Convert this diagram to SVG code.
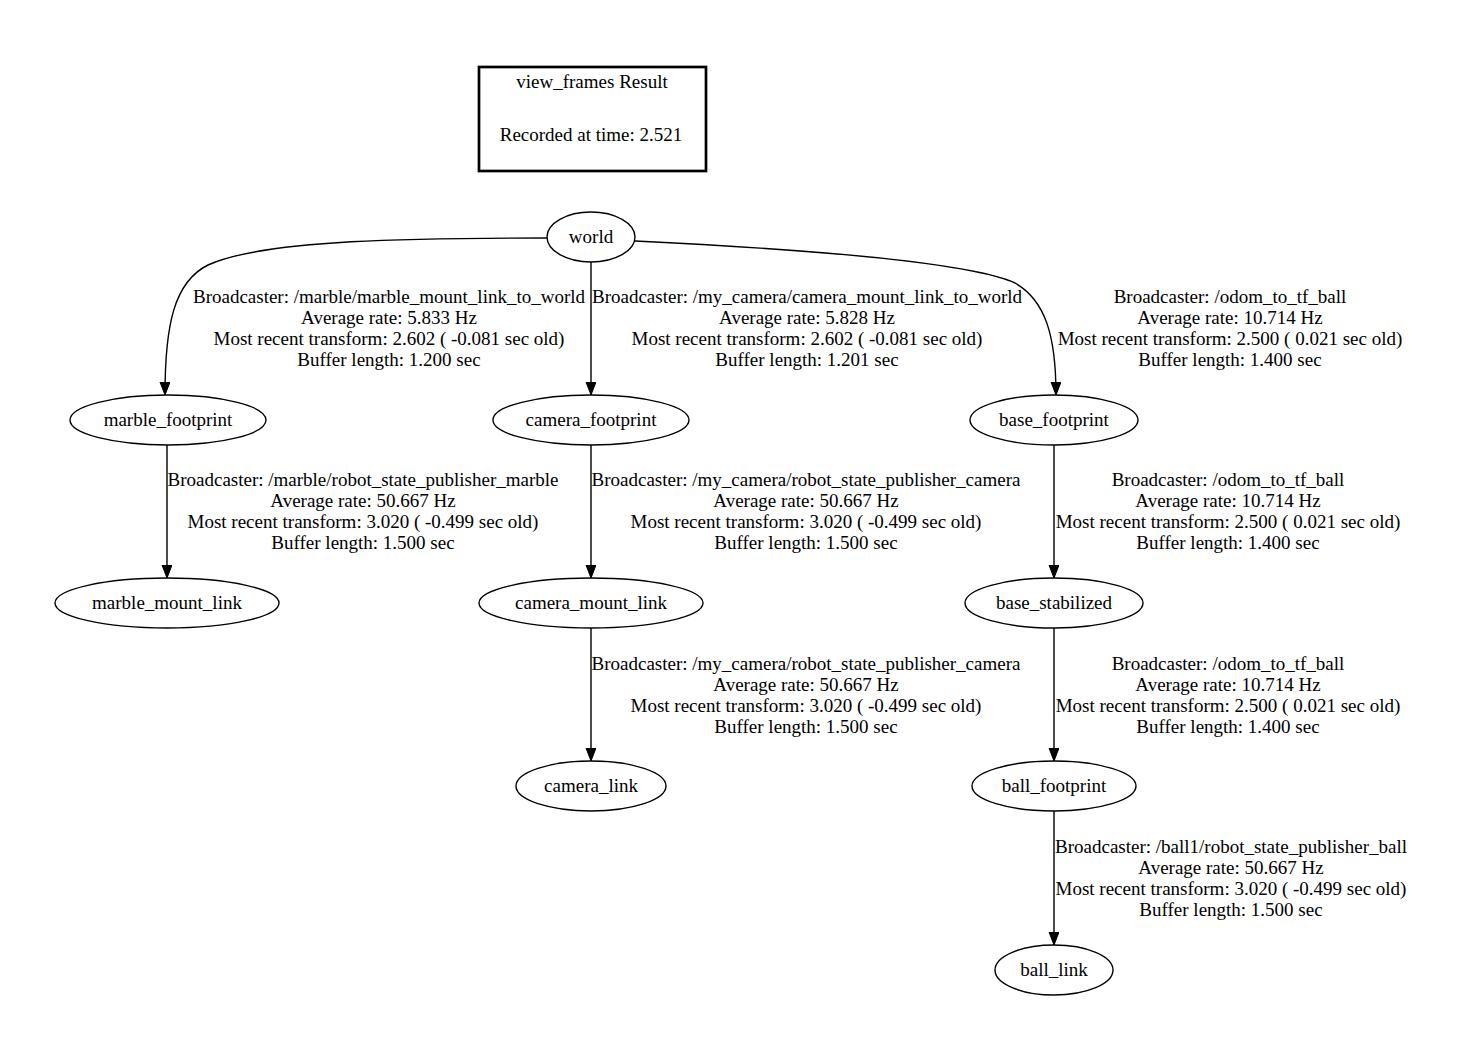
<svg xmlns="http://www.w3.org/2000/svg" width="1463" height="1051" viewBox="0 0 1463 1051">
<style>
text{font-family:"Liberation Serif","Times New Roman",serif;font-size:19px;fill:#000;text-anchor:middle}
.n ellipse{fill:none;stroke:#000;stroke-width:1.4}
.e path{fill:none;stroke:#000;stroke-width:1.4;marker-end:url(#arr)}
</style>
<defs>
<marker id="arr" markerUnits="userSpaceOnUse" markerWidth="14" markerHeight="11" refX="13" refY="5" orient="auto">
<path d="M0,0 L13,5 L0,10 Z" fill="#000" stroke="#000" stroke-width="1"/>
</marker>
</defs>
<rect width="1463" height="1051" fill="#fff"/>
<g id="title">
<rect x="479" y="67" width="227" height="104" fill="none" stroke="#000" stroke-width="2.7"/>
<text x="592" y="88">view_frames Result</text>
<text x="591" y="141">Recorded at time: 2.521</text>
</g>
<g id="edges" class="e">
<path d="M547,238 C420,238 265,239 208,265 C174,282 165,325 165,395"/>
<path d="M591,262 L591,395"/>
<path d="M635,241 C780,248 965,260 1015,283 C1045,300 1056,335 1056,395"/>
<path d="M167,445 L167,578"/>
<path d="M591,445 L591,578"/>
<path d="M1054,445 L1054,578"/>
<path d="M591,628 L591,761"/>
<path d="M1054,628 L1054,761"/>
<path d="M1054,811 L1054,945"/>
</g>
<g id="edge-labels">
<g><text x="389" y="303">Broadcaster: /marble/marble_mount_link_to_world</text><text x="389" y="324">Average rate: 5.833 Hz</text><text x="389" y="345">Most recent transform: 2.602 ( -0.081 sec old)</text><text x="389" y="366">Buffer length: 1.200 sec</text></g>
<g><text x="807" y="303">Broadcaster: /my_camera/camera_mount_link_to_world</text><text x="807" y="324">Average rate: 5.828 Hz</text><text x="807" y="345">Most recent transform: 2.602 ( -0.081 sec old)</text><text x="807" y="366">Buffer length: 1.201 sec</text></g>
<g><text x="1230" y="303">Broadcaster: /odom_to_tf_ball</text><text x="1230" y="324">Average rate: 10.714 Hz</text><text x="1230" y="345">Most recent transform: 2.500 ( 0.021 sec old)</text><text x="1230" y="366">Buffer length: 1.400 sec</text></g>
<g><text x="363" y="486">Broadcaster: /marble/robot_state_publisher_marble</text><text x="363" y="507">Average rate: 50.667 Hz</text><text x="363" y="528">Most recent transform: 3.020 ( -0.499 sec old)</text><text x="363" y="549">Buffer length: 1.500 sec</text></g>
<g><text x="806" y="486">Broadcaster: /my_camera/robot_state_publisher_camera</text><text x="806" y="507">Average rate: 50.667 Hz</text><text x="806" y="528">Most recent transform: 3.020 ( -0.499 sec old)</text><text x="806" y="549">Buffer length: 1.500 sec</text></g>
<g><text x="1228" y="486">Broadcaster: /odom_to_tf_ball</text><text x="1228" y="507">Average rate: 10.714 Hz</text><text x="1228" y="528">Most recent transform: 2.500 ( 0.021 sec old)</text><text x="1228" y="549">Buffer length: 1.400 sec</text></g>
<g><text x="806" y="670">Broadcaster: /my_camera/robot_state_publisher_camera</text><text x="806" y="691">Average rate: 50.667 Hz</text><text x="806" y="712">Most recent transform: 3.020 ( -0.499 sec old)</text><text x="806" y="733">Buffer length: 1.500 sec</text></g>
<g><text x="1228" y="670">Broadcaster: /odom_to_tf_ball</text><text x="1228" y="691">Average rate: 10.714 Hz</text><text x="1228" y="712">Most recent transform: 2.500 ( 0.021 sec old)</text><text x="1228" y="733">Buffer length: 1.400 sec</text></g>
<g><text x="1231" y="853">Broadcaster: /ball1/robot_state_publisher_ball</text><text x="1231" y="874">Average rate: 50.667 Hz</text><text x="1231" y="895">Most recent transform: 3.020 ( -0.499 sec old)</text><text x="1231" y="916">Buffer length: 1.500 sec</text></g>
</g>
<g id="world" class="n"><ellipse cx="591" cy="237" rx="44" ry="25"/><text x="591" y="243">world</text></g>
<g id="marble_footprint" class="n"><ellipse cx="168" cy="420" rx="98" ry="25"/><text x="168" y="426">marble_footprint</text></g>
<g id="camera_footprint" class="n"><ellipse cx="591" cy="420" rx="98" ry="25"/><text x="591" y="426">camera_footprint</text></g>
<g id="base_footprint" class="n"><ellipse cx="1054" cy="420" rx="84" ry="25"/><text x="1054" y="426">base_footprint</text></g>
<g id="marble_mount_link" class="n"><ellipse cx="167" cy="603" rx="112" ry="25"/><text x="167" y="609">marble_mount_link</text></g>
<g id="camera_mount_link" class="n"><ellipse cx="591" cy="603" rx="112" ry="25"/><text x="591" y="609">camera_mount_link</text></g>
<g id="base_stabilized" class="n"><ellipse cx="1054" cy="603" rx="89" ry="25"/><text x="1054" y="609">base_stabilized</text></g>
<g id="camera_link" class="n"><ellipse cx="591" cy="786" rx="75" ry="25"/><text x="591" y="792">camera_link</text></g>
<g id="ball_footprint" class="n"><ellipse cx="1054" cy="786" rx="82" ry="25"/><text x="1054" y="792">ball_footprint</text></g>
<g id="ball_link" class="n"><ellipse cx="1054" cy="970" rx="59" ry="25"/><text x="1054" y="976">ball_link</text></g>
</svg>
